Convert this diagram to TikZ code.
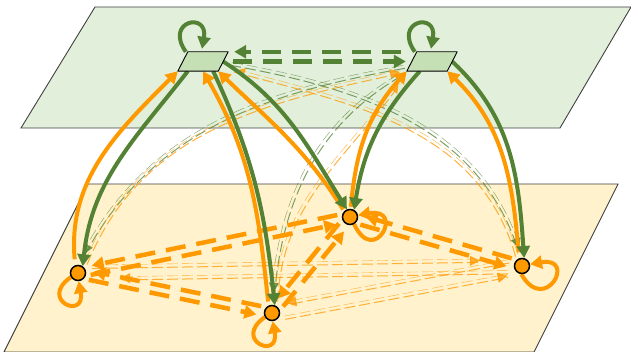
\documentclass[tikz,border=0pt]{standalone}
\usepackage{tikz}
\usetikzlibrary{arrows.meta,positioning,shapes.geometric,calc}

\definecolor{grn}{RGB}{84,130,53}
\definecolor{org}{RGB}{255,153,0}
\definecolor{topbg}{RGB}{226,239,218}
\definecolor{botbg}{RGB}{255,242,204}
\definecolor{tfill}{RGB}{197,224,180}

\pgfdeclarelayer{back}
\pgfsetlayers{back,main}

\begin{document}
\begin{tikzpicture}[
    x=1pt, y=1pt,
    plane/.style={draw=black!75, line width=0.9pt},
    tnode/.style={rectangle, minimum width=40pt, minimum height=19pt, inner sep=0pt},
    tshape/.style={draw, fill=tfill, line width=0.9pt, line join=round},
    onode/.style={circle, draw, fill=org, line width=1.5pt, minimum size=15pt, inner sep=0pt},
    tip/.style={-{Triangle[length=12pt, width=13pt]}},
    gsolid/.style={tip, draw=grn, line width=4pt},
    osolid/.style={tip, draw=org, line width=4pt},
    gdash/.style={gsolid, line width=4.5pt, dash pattern=on 19pt off 11pt},
    odash/.style={osolid, line width=4.5pt, dash pattern=on 20pt off 11pt, shorten <=12pt, shorten >=15pt},
    hid/.style 2 args={draw=#1, opacity=0.75, line width=1pt, dash pattern=on 0pt off 3000pt,
        -{Triangle[length=10pt, width=10pt]},
        preaction={draw=#1, opacity=0.75, -, dash pattern=on 11pt off 4pt, transform canvas={shift={(#2:1.7pt)}}},
        postaction={draw=#1, opacity=0.75, -, dash pattern=on 11pt off 4pt, transform canvas={shift={(#2+180:1.7pt)}}}}
]
    \useasboundingbox (0,0) rectangle (631,352);

    % Planes
    \begin{pgfonlayer}{back}
    \path[plane, fill=topbg] (95,345) -- (631,345) -- (560,224) -- (21,224) -- cycle;
    \path[plane, fill=botbg] (88,168) -- (618,168) -- (534,0) -- (4,0) -- cycle;
    \end{pgfonlayer}

    % Upper layer
    \node[tnode] (tl) at (203,290.5) {};
    \node[tnode] (tr) at (432,290.5) {};
    \draw[tshape] ([xshift=-5pt]tl.south west) -- ([xshift=-5pt]tl.south east)
        -- ([xshift=5pt]tl.north east) -- ([xshift=5pt]tl.north west) -- cycle;
    \draw[tshape] ([xshift=-5pt]tr.south west) -- ([xshift=-5pt]tr.south east)
        -- ([xshift=5pt]tr.north east) -- ([xshift=5pt]tr.north west) -- cycle;

    % Lower layer
    \node[onode] (a) at (78,79) {};
    \node[onode] (b) at (272,39) {};
    \node[onode] (c) at (350,135) {};
    \node[onode] (d) at (522,86) {};

    \begin{pgfonlayer}{back}
    % Hidden links across layers
    \draw[hid={grn}{58}, shorten <=8pt, shorten >=10pt] ([yshift=-1pt]tl.east) to[out=-10, in=108] (d.north);
    \draw[hid={org}{58}, shorten <=4pt, shorten >=12pt] (d.122) to[out=106, in=-15] ([yshift=-6pt]tl.east);
    \draw[hid={grn}{122}, shorten <=8pt, shorten >=12pt] ([yshift=-4pt]tr.west) to[out=190, in=62] (a.north);
    \draw[hid={org}{122}, shorten <=5pt, shorten >=12pt] (a.40) to[out=68, in=-168] ([yshift=-8pt]tr.west);
    \draw[hid={grn}{152}, shorten <=8pt, shorten >=12pt] ([xshift=-5pt]tr.south west) to[out=-150, in=85] (b.north);
    \draw[hid={org}{152}, shorten <=5pt, shorten >=14pt] (b.60) to[out=88, in=-125] ([xshift=-5pt]tr.south west);

    % Hidden links in lower layer
    \draw[hid={org}{90}, shorten <=14pt, shorten >=42pt] ($(a)!6pt!90:(d)$) -- ($(d)!6pt!-90:(a)$);
    \draw[hid={org}{90}, shorten <=14pt, shorten >=42pt] ($(d)!6pt!90:(a)$) -- ($(a)!6pt!-90:(d)$);
    \draw[hid={org}{100}, shorten <=12pt, shorten >=16pt] ($(b)!7pt!-90:(d)$) -- ($(d)!7pt!90:(b)$);
    \draw[hid={org}{100}, shorten <=12pt, shorten >=16pt] ($(d)!7pt!-90:(b)$) -- ($(b)!7pt!90:(d)$);

    % Links in upper layer
    \draw[gdash] ([xshift=-11pt]tr.north west) -- ([xshift=11pt]tl.north east);
    \draw[gdash] ([xshift=10pt]tl.east) -- ([xshift=-6pt]tr.west);

    % Links in lower layer
    \draw[odash] ($(a)!4.5pt!-90:(c)$) -- ($(c)!4.5pt!90:(a)$);
    \draw[odash] ($(c)!4.5pt!-90:(a)$) -- ($(a)!4.5pt!90:(c)$);
    \draw[odash] ($(a)!4.5pt!-90:(b)$) -- ($(b)!4.5pt!90:(a)$);
    \draw[odash] ($(b)!4.5pt!-90:(a)$) -- ($(a)!4.5pt!90:(b)$);
    \draw[odash] ($(b)!4.5pt!-90:(c)$) -- ($(c)!4.5pt!90:(b)$);
    \draw[odash] ($(c)!4.5pt!-90:(b)$) -- ($(b)!4.5pt!90:(c)$);
    \draw[odash] ($(c)!4.5pt!-90:(d)$) -- ($(d)!4.5pt!90:(c)$);
    \draw[odash] ($(d)!4.5pt!-90:(c)$) -- ($(c)!4.5pt!90:(d)$);

    % Links across layers
    \draw[osolid, shorten <=6pt] (a.110) to[out=95, in=-135] ([xshift=-5pt]tl.south west);
    \draw[gsolid] ([xshift=5pt]tl.south west) to[out=-128, in=84] (a.55);
    \draw[osolid, shorten <=4pt] (b.115) to[out=96, in=-60] (tl.south);
    \draw[gsolid] ([xshift=-10pt]tl.south east) to[out=-65, in=96] (b.70);
    \draw[osolid, shorten <=2pt] (c.135) to[out=122, in=-44] ([xshift=-5pt]tl.south east);
    \draw[gsolid] (tl.east) to[out=-33, in=122] (c.112);
    \draw[osolid, shorten <=2pt] (c.85) to[out=85, in=-132] ([xshift=-5pt]tr.south west);
    \draw[gsolid] ([xshift=8pt]tr.south west) to[out=-132, in=81] (c.60);
    \draw[osolid, shorten <=6pt] (d.110) to[out=95, in=-44] ([xshift=-5pt]tr.south east);
    \draw[gsolid] (tr.east) to[out=-43, in=94] (d.75);

    % Self loops
    \draw[gsolid] ([xshift=3pt]tl.north west) to[out=125, in=80, min distance=38pt] ([xshift=-1pt, yshift=3pt]tl.north);
    \draw[gsolid] ([xshift=3pt]tr.north west) to[out=125, in=80, min distance=38pt] ([xshift=-1pt, yshift=3pt]tr.north);
    \draw[osolid] (a.-150) to[out=215, in=-80, min distance=40pt] (a.-85);
    \draw[osolid] (b.-150) to[out=215, in=-80, min distance=40pt] (b.-85);
    \draw[osolid] (c.-60) to[out=-65, in=10, min distance=48pt] (c.12);
    \draw[osolid] (d.-95) to[out=-60, in=10, min distance=48pt] (d.12);
    \end{pgfonlayer}

\end{tikzpicture}
\end{document}
